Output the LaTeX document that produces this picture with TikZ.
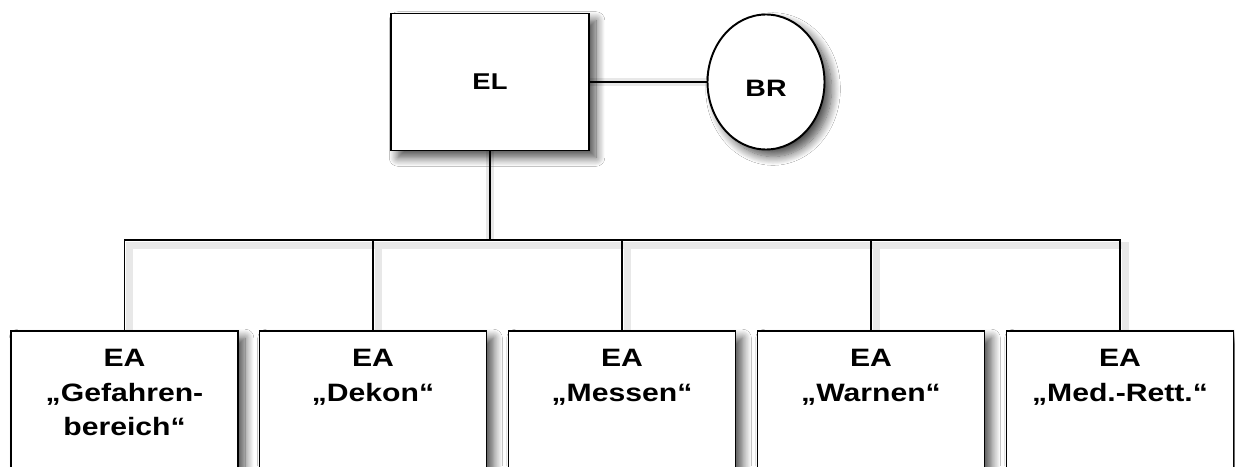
\documentclass[tikz,border=0pt]{standalone}
\usepackage{fontspec}
\setmainfont{Liberation Sans}
\newfontfamily\widesans[FakeStretch=1.2]{Liberation Sans}
\usepackage{tikz}
\usetikzlibrary{shapes.geometric,shadows.blur}

\tikzset{
  shade box/.style={blur shadow={shadow xshift=4pt, shadow yshift=-4pt, shadow blur radius=5pt, shadow blur steps=12, shadow opacity=70}},
  leadbox/.style={draw, line width=1.1pt, fill=white, minimum width=3.96cm, minimum height=2.74cm, shade box, font=\widesans\fontsize{13}{16}\selectfont\bfseries},
  advisor/.style={ellipse, draw, line width=1.1pt, fill=white, minimum width=2.34cm, minimum height=2.7cm, inner sep=0pt, text height=0.57cm, text depth=0pt, shade box, font=\widesans\fontsize{13.5}{16}\selectfont\bfseries},
  unitbox/.style={draw, line width=1.1pt, fill=white, minimum width=4.54cm, minimum height=3cm, shade box},
  unittext/.style={anchor=north, align=center, inner sep=0pt, font=\widesans\fontsize{14.3}{19.6}\selectfont\bfseries},
  link/.style={line width=0.8pt},
  linkshade/.style={line width=4pt, draw=black!9, xshift=3pt, yshift=-3pt}
}

\begin{document}
\begin{tikzpicture}
\useasboundingbox (0,0) rectangle (24.7,9.32);
\clip (0,0) rectangle (24.7,9.32);
\fill[white] (0,0) rectangle (24.7,9.32);

% lines first, boxes on top
\coordinate (bus) at (0, 4.52);
\coordinate (el_pos) at (9.8, 7.68);
\coordinate (br_pos) at (15.32, 7.68);

\draw[linkshade] (el_pos) -- (br_pos);
\draw[linkshade] (el_pos) -- (el_pos |- bus);
\draw[linkshade] (2.49, 2.7) -- (2.49, 4.52) -- (22.40, 4.52) -- (22.40, 2.7);
\draw[linkshade] (7.46, 4.52) -- (7.46, 2.7);
\draw[linkshade] (12.44, 4.52) -- (12.44, 2.7);
\draw[linkshade] (17.42, 4.52) -- (17.42, 2.7);

\draw[link] (el_pos) -- (br_pos);
\draw[link] (el_pos) -- (el_pos |- bus);
\draw[link] (2.49, 2.7) -- (2.49, 4.52) -- (22.40, 4.52) -- (22.40, 2.7);
\draw[link] (7.46, 4.52) -- (7.46, 2.7);
\draw[link] (12.44, 4.52) -- (12.44, 2.7);
\draw[link] (17.42, 4.52) -- (17.42, 2.7);

\node[leadbox] (el) at (el_pos) {EL};
\node[advisor] (br) at (br_pos) {BR};

\node[unitbox] (ea_gefahr) at (2.49, 1.2) {};
\node[unitbox] (ea_dekon) at (7.46, 1.2) {};
\node[unitbox] (ea_messen) at (12.44, 1.2) {};
\node[unitbox] (ea_warnen) at (17.42, 1.2) {};
\node[unitbox] (ea_rett) at (22.40, 1.2) {};

\node[unittext] (t_gefahr) at ([yshift=-0.38cm]ea_gefahr.north) {EA\\„Gefahren-\\bereich“};
\node[unittext] (t_dekon) at ([yshift=-0.38cm]ea_dekon.north) {EA\\„Dekon“};
\node[unittext] (t_messen) at ([yshift=-0.38cm]ea_messen.north) {EA\\„Messen“};
\node[unittext] (t_warnen) at ([yshift=-0.38cm]ea_warnen.north) {EA\\„Warnen“};
\node[unittext] (t_rett) at ([yshift=-0.38cm]ea_rett.north) {EA\\„Med.-Rett.“};
\end{tikzpicture}
\end{document}
